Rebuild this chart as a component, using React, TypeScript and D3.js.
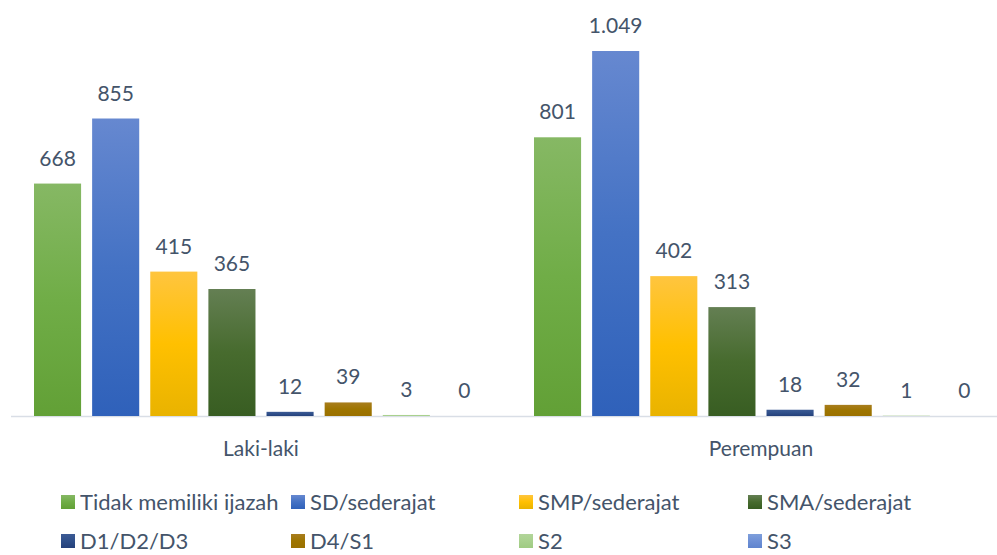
import React from "react";
import * as d3 from "d3";

const groups = ["Laki-laki", "Perempuan"];
const series = [
  "Tidak memiliki ijazah",
  "SD/sederajat",
  "SMP/sederajat",
  "SMA/sederajat",
  "D1/D2/D3",
  "D4/S1",
  "S2",
  "S3",
];
const lakiValues = [668, 855, 415, 365, 12, 39, 3, 0];
const perempuanValues = [801, 1049, 402, 313, 18, 32, 1, 0];
const valueLabels = [
  ["668", "855", "415", "365", "12", "39", "3", "0"],
  ["801", "1.049", "402", "313", "18", "32", "1", "0"],
];
const colorTop = ["#86B864", "#6688D0", "#FFC53F", "#647F53", "#3C5A94", "#A87D1E", "#B2D59A", "#7E9FDB"];
const colorMid = ["#70AD47", "#4472C4", "#FFC000", "#476B2E", "#2F4F8A", "#9E7500", "#A9D18E", "#6E90D6"];
const colorBot = ["#62A036", "#2F61BA", "#E9B300", "#385D22", "#24407A", "#9A7000", "#9FCB82", "#5F84CE"];

const W = 997;
const H = 555;
const FONT = "Lato, 'Open Sans', sans-serif";
const TEXT = "#44546A";

export default function App() {
  const data = [lakiValues, perempuanValues];
  const x0 = d3.scaleBand().domain(groups).range([11, 1011]).padding(0);
  const x1 = d3.scaleBand().domain(series).range([23, 477]).paddingInner(0.19).paddingOuter(0);
  const y = d3.scaleLinear().domain([0, 1049]).range([416, 51]);

  const legendX = [61, 291, 519, 748];
  const legendY = [502, 541];

  return (
    <svg width={W} height={H} style={{ position: "absolute", left: 0, top: 0, background: "#fff" }}>
      <defs>
        {series.map((s, i) => (
          <linearGradient key={s} id={`g${i}`} x1="0" y1="0" x2="0" y2="1">
            <stop offset="0" stopColor={colorTop[i]} />
            <stop offset="0.5" stopColor={colorMid[i]} />
            <stop offset="1" stopColor={colorBot[i]} />
          </linearGradient>
        ))}
      </defs>
      <line x1={11} x2={997} y1={416.5} y2={416.5} stroke="#D9DEE6" strokeWidth={1.5} />
      {groups.map((g, gi) => (
        <g key={g} transform={`translate(${x0(g)},0)`}>
          {series.map((s, si) => {
            const v = data[gi][si];
            const bx = x1(s)!;
            const by = y(v);
            return (
              <g key={s}>
                {v > 0 && (
                  <rect x={bx} y={by} width={x1.bandwidth()} height={y(0) - by} fill={`url(#g${si})`} />
                )}
                <text
                  x={bx + x1.bandwidth() / 2}
                  y={by - 18}
                  textAnchor="middle"
                  fontFamily={FONT}
                  fontSize={21}
                  fill={TEXT}
                >
                  {valueLabels[gi][si]}
                </text>
              </g>
            );
          })}
          <text x={x0.bandwidth() / 2} y={456} textAnchor="middle" fontFamily={FONT} fontSize={21} fill={TEXT}>
            {g}
          </text>
        </g>
      ))}
      {series.map((s, i) => {
        const col = i % 4;
        const row = Math.floor(i / 4);
        const lx = legendX[col];
        const ly = legendY[row];
        return (
          <g key={s}>
            <rect x={lx} y={ly - 7} width={14} height={14} fill={`url(#g${i})`} />
            <text x={lx + 19} y={ly + 7.5} fontFamily={FONT} fontSize={22} fill={TEXT}>
              {s}
            </text>
          </g>
        );
      })}
    </svg>
  );
}
